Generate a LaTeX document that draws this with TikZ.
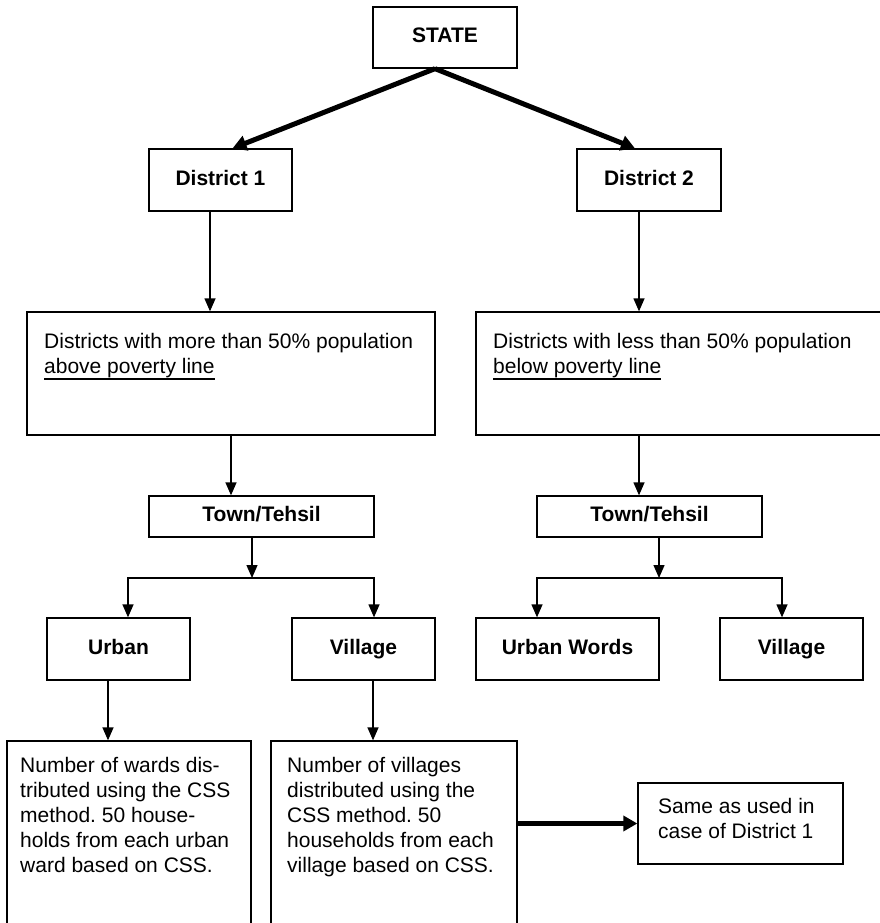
\documentclass[tikz,border=0pt]{standalone}
\usepackage{fontspec}
\setmainfont{Liberation Sans}
\usetikzlibrary{arrows.meta,calc}
\frenchspacing
\newcommand\ulbar[1]{\leavevmode\setbox0\hbox{#1}\rlap{\rule[-6.5pt]{\wd0}{2pt}}\box0}
\begin{document}
\begin{tikzpicture}[x=1pt,y=-1pt,
  box/.style={draw=black, line width=1.3pt, inner sep=0pt, anchor=center},
  lbl/.style={font=\fontsize{21}{25}\selectfont\bfseries, text height=15pt, text depth=4.5pt},
  txt/.style={inner sep=0pt, anchor=base west, font=\fontsize{21}{25}\selectfont},
  arr/.style={line width=1.3pt, -{Triangle[length=13pt,width=11pt]}},
  thickarr/.style={line width=5pt, -{Triangle[length=14pt,width=15pt]}},
  ]
\useasboundingbox (0,0) rectangle (880,923);
\clip (0,0) rectangle (880,923);
% boxes
\node[box,lbl,minimum width=144pt,minimum height=61pt] (state) at (445,37.5) {STATE};
\node[box,lbl,minimum width=143pt,minimum height=62pt] (d1) at (220.5,180) {District 1};
\node[box,lbl,minimum width=144pt,minimum height=62pt] (d2) at (649,180) {District 2};
\node[box,minimum width=408pt,minimum height=123pt] (b1) at (231,373.5) {};
\node[box,minimum width=424pt,minimum height=123pt] (b2) at (688,373.5) {};
\node[txt] (b1t) at (44,348) {\parbox[t]{400pt}{\raggedright Districts with more than 50\% population\\ \ulbar{above poverty line}}};
\node[txt] (b2t) at (493,348) {\parbox[t]{400pt}{\raggedright Districts with less than 50\% population\\ \ulbar{below poverty line}}};
\node[box,lbl,minimum width=225pt,minimum height=41pt] (t1) at (261.5,516.5) {Town/Tehsil};
\node[box,lbl,minimum width=225pt,minimum height=41pt] (t2) at (649.5,516.5) {Town/Tehsil};
\node[box,lbl,minimum width=143pt,minimum height=62pt] (urban) at (118.5,649) {Urban};
\node[box,lbl,minimum width=143pt,minimum height=62pt] (vil1) at (363.5,649) {Village};
\node[box,lbl,minimum width=183pt,minimum height=62pt] (uw) at (567.5,649) {Urban Words};
\node[box,lbl,minimum width=143pt,minimum height=62pt] (vil2) at (791.5,649) {Village};
\node[box,minimum width=244pt,minimum height=219pt] (bot1) at (129,850.5) {};
\node[box,minimum width=246pt,minimum height=219pt] (bot2) at (394,850.5) {};
\node[txt] (bot1t) at (20,772) {\parbox[t]{300pt}{\raggedright Number of wards dis-\\ tributed using the CSS\\ method. 50 house-\\ holds from each urban\\ ward based on CSS.}};
\node[txt] (bot2t) at (287,772) {\parbox[t]{300pt}{\raggedright Number of villages\\ distributed using the\\ CSS method. 50\\ households from each\\ village based on CSS.}};
\node[box,minimum width=205pt,minimum height=81pt] (same) at (740.5,823.5) {};
\node[txt] (samet) at (658,813) {\parbox[t]{250pt}{\raggedright Same as used in\\ case of District 1}};
% connectors
\coordinate (apex) at ($(state.south)+(-10,0)$);
\draw[thickarr] (apex) -- ([xshift=12pt]d1.north);
\draw[thickarr] (apex) -- ([xshift=-14pt]d2.north);
\draw[arr] ([xshift=-10.5pt]d1.south) -- ([xshift=-10.5pt]d1.south |- b1.north);
\draw[arr] ([xshift=-10pt]d2.south) -- ([xshift=-10pt]d2.south |- b2.north);
\draw[arr] (b1.south) -- (b1.south |- t1.north);
\draw[arr] ([xshift=-10pt]d2.south |- b2.south) -- ([xshift=-10pt]d2.south |- t2.north);
\coordinate (j1) at (252,578);
\coordinate (j2) at (659,578);
\draw[arr] ([xshift=-9.5pt]t1.south) -- (j1);
\draw[arr] (j1) -| ([xshift=9.5pt]urban.north);
\draw[arr] (j1) -| ([xshift=10.5pt]vil1.north);
\draw[arr] ([xshift=9.5pt]t2.south) -- (j2);
\draw[arr] (j2) -| ([xshift=-30.5pt]uw.north);
\draw[arr] (j2) -| ([xshift=-9.5pt]vil2.north);
\draw[arr] ([xshift=-10.5pt]urban.south) -- ([xshift=-10.5pt]urban.south |- bot1.north);
\draw[arr] ([xshift=9.5pt]vil1.south) -- ([xshift=9.5pt]vil1.south |- bot2.north);
\draw[thickarr] (same.west -| bot2.east) -- (same.west);
\end{tikzpicture}
\end{document}
